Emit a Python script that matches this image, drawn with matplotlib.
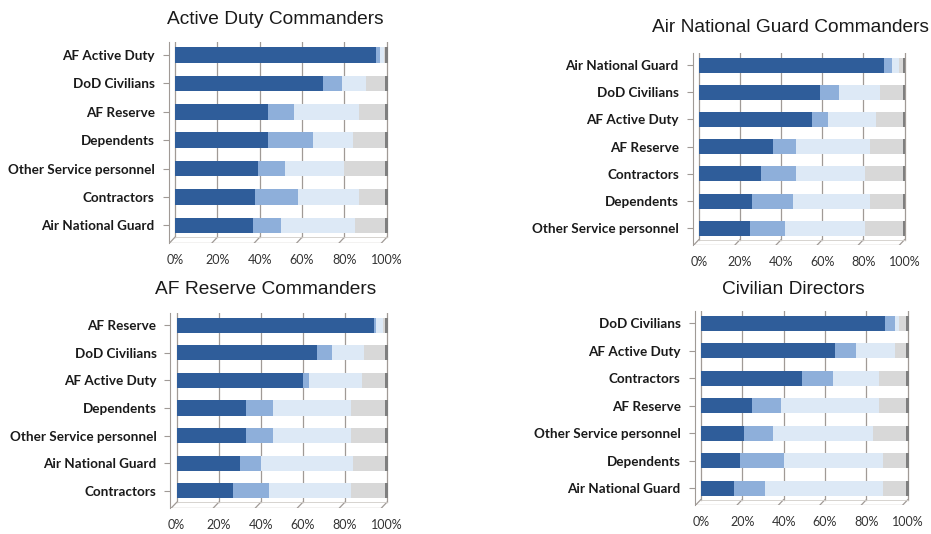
import numpy as np
import matplotlib.pyplot as plt

# stacked shares (percent) per respondent group, top row first
titles = [
    "Active Duty Commanders",
    "Air National Guard Commanders",
    "AF Reserve Commanders",
    "Civilian Directors",
]

cats_ad = ["AF Active Duty", "DoD Civilians", "AF Reserve", "Dependents",
           "Other Service personnel", "Contractors", "Air National Guard"]
dark_ad = [95, 70, 44, 44, 39, 38, 37]
mid_ad = [2, 9, 12, 21, 13, 20, 13]
light_ad = [1.5, 11, 31, 19, 28, 29, 35]

cats_ang = ["Air National Guard", "DoD Civilians", "AF Active Duty", "AF Reserve",
            "Contractors", "Dependents", "Other Service personnel"]
dark_ang = [90, 59, 55, 36, 30, 26, 25]
mid_ang = [4, 9, 8, 11, 17, 20, 17]
light_ang = [3.5, 20, 23, 36, 34, 37, 39]

cats_res = ["AF Reserve", "DoD Civilians", "AF Active Duty", "Dependents",
            "Other Service personnel", "Air National Guard", "Contractors"]
dark_res = [94, 67, 60, 33, 33, 30, 27]
mid_res = [1, 7, 3, 13, 13, 10, 17]
light_res = [3, 15, 25, 37, 37, 44, 39]

cats_civ = ["DoD Civilians", "AF Active Duty", "Contractors", "AF Reserve",
            "Other Service personnel", "Dependents", "Air National Guard"]
dark_civ = [89, 65, 49, 25, 21, 19, 16]
mid_civ = [5, 10, 15, 14, 14, 21, 15]
light_civ = [2, 19, 22, 47, 48, 48, 57]

panels = [
    (cats_ad, dark_ad, mid_ad, light_ad),
    (cats_ang, dark_ang, mid_ang, light_ang),
    (cats_res, dark_res, mid_res, light_res),
    (cats_civ, dark_civ, mid_civ, light_civ),
]

# axes boxes in figure fractions [left, bottom, width, height]
boxes = [
    [0.181, 0.545, 0.239, 0.376],
    [0.744, 0.541, 0.232, 0.360],
    [0.183, 0.049, 0.237, 0.365],
    [0.746, 0.054, 0.2335, 0.364],
]
# title centres in pixels (x, y from top)
title_pos = [(275, 20), (791, 27), (266, 290), (793, 290)]

c_dark = "#2F5D9A"
c_mid = "#8EAFDA"
c_light = "#DDE9F6"
c_gray = "#D8D8D8"
c_grid = "#A09A96"

W, H = 931, 534
fig = plt.figure(figsize=(W / 100, H / 100), dpi=100)

for (cats, dark, mid, light), box, title, tp in zip(panels, boxes, titles, title_pos):
    ax = fig.add_axes(box)
    dark = np.array(dark, float)
    mid = np.array(mid, float)
    light = np.array(light, float)
    gray = 100 - dark - mid - light
    n = len(cats)
    y = np.arange(n)[::-1]
    h = 0.55
    back, front = -0.42, -0.62

    # back wall grid + slanted floor lines
    for gx in range(0, 101, 20):
        ax.plot([gx, gx], [back, n - 0.55], color=c_grid, lw=0.9, zorder=0)
        ax.plot([gx - 2.5, gx], [front, back], color=c_grid, lw=0.9, zorder=0)
    ax.plot([-2.5, 97.5], [front, front], color=c_grid, lw=0.9, zorder=0)
    ax.plot([0, 100], [back, back], color="#D0CCC8", lw=0.6, zorder=0)

    ax.barh(y, dark, height=h, color=c_dark, zorder=2)
    ax.barh(y, mid, left=dark, height=h, color=c_mid, zorder=2)
    ax.barh(y, light, left=dark + mid, height=h, color=c_light, zorder=2)
    ax.barh(y, gray, left=dark + mid + light, height=h, color=c_gray, zorder=2)
    # end face of each bar
    ax.barh(y, 1.2, left=99.2, height=h, color="#7F7F7F", zorder=3)

    ax.set_xlim(-3, 102)
    ax.set_ylim(front, n - 0.55)
    ax.set_yticks(y)
    ax.set_yticklabels(cats, fontsize=9.7, fontweight="bold", family="Lato",
                       color="#1A1A1A")
    ax.set_xticks(np.arange(0, 101, 20))
    ax.set_xticklabels([f"{v}%" for v in range(0, 101, 20)], fontsize=9,
                       family="Lato", color="#333333")
    ax.tick_params(axis="y", length=4, color=c_grid, pad=6)
    ax.tick_params(axis="x", length=0, pad=8)
    for s in ["top", "right", "bottom"]:
        ax.spines[s].set_visible(False)
    ax.spines["left"].set_color(c_grid)
    ax.spines["left"].set_bounds(front, n - 0.55)
    fig.text(tp[0] / W, 1 - tp[1] / H, title, fontsize=13.8, family="Liberation Sans",
             color="#1A1A1A", ha="center", va="center")

fig.savefig("out.png", dpi=100)
